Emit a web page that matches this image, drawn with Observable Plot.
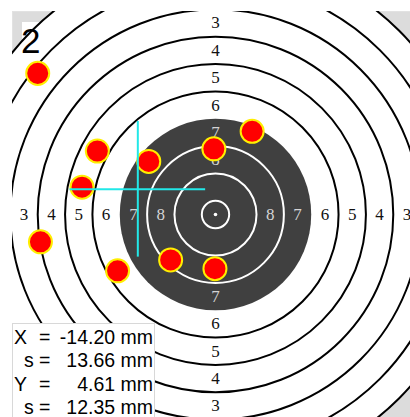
<!DOCTYPE html>
<html><head><meta charset="utf-8">
<script src="https://cdn.jsdelivr.net/npm/d3@7"></script>
<script src="https://cdn.jsdelivr.net/npm/@observablehq/plot@0.6"></script>
<style>
html,body{margin:0;padding:0;background:#fff;overflow:hidden;}
#wrap{position:relative;width:410px;height:417px;overflow:hidden;}
#stats{position:absolute;left:12px;top:323px;width:141px;height:110px;background:#fff;border:1px solid #d8d8d8;
  font-family:"Liberation Sans",Arial,sans-serif;font-size:19.5px;color:#000;}
.row{position:absolute;left:0;width:141px;height:23.4px;line-height:23.4px;white-space:pre;}
.nm{position:absolute;}
.eq{position:absolute;left:26px;}
.val{position:absolute;right:1px;}
</style></head><body><div id="wrap"></div>
<script>
// ---- data ----
const ringScores = [1,2,3,4,5,6,7,8,9,10];
const tenRingRadius = 2.5;   // mm
const ringStep = 5;          // mm between rings
const labelScores = [3,4,5,6,7,8];
const shotX = [-32.5, -21.6, -12.2, -24.4, -0.3, 6.7, -32.0, -17.9, -8.2, -0.1];
const shotY = [25.8, 11.6, 9.7, 5.0, 12.0, 15.2, -5.0, -10.3, -8.3, -9.9];
const shotRadius = [2.25];   // mm
const statNames = ["X", "s", "Y", "s"];
const statValues = [-14.20, 13.66, 4.61, 12.35];
const crossHalf = [12.4];    // mm
const targetNumber = ["2"];
const xDomain = [-37.11, 35.65];
const yDomain = [-37.11, 37.11];

// ---- chart ----
const W = 410, H = 417, mL = 12, mT = 11;
const k = (W - mL) / (xDomain[1] - xDomain[0]);
const rings = ringScores.map(s => ({score: s, r: tenRingRadius + (10 - s) * ringStep}));
const labels = [];
for (const s of labelScores) {
  const m = (10 - s) * ringStep;
  for (const [dx, dy] of [[-1,0],[1,0],[0,1],[0,-1]]) labels.push({score: s, x: dx * m, y: dy * m});
}
const shots = shotX.map((x, i) => ({x, y: shotY[i]}));
const mx = statValues[0], my = statValues[2], h = crossHalf[0];
const zero = () => 0;

const plot = Plot.plot({
  width: W, height: H,
  marginLeft: mL, marginTop: mT, marginRight: 0, marginBottom: 0,
  x: {domain: xDomain, axis: null},
  y: {domain: yDomain, axis: null},
  r: {type: "identity"},
  marks: [
    Plot.frame({fill: "#dcdcdc", stroke: "#e2e2e2"}),
    Plot.dot(rings.filter(d => d.score === 1), {x: zero, y: zero, r: d => d.r * k, fill: "white", clip: "frame"}),
    Plot.dot(rings.filter(d => d.score <= 6), {x: zero, y: zero, r: d => d.r * k, fill: "none", stroke: "black", strokeWidth: 2, clip: "frame"}),
    Plot.dot(rings.filter(d => d.score === 7), {x: zero, y: zero, r: d => d.r * k, fill: "#404040", clip: "frame"}),
    Plot.dot(rings.filter(d => d.score >= 8), {x: zero, y: zero, r: d => d.r * k, fill: "none", stroke: "white", strokeWidth: 2}),
    Plot.dot([0], {x: zero, y: zero, r: 1.8, fill: "white"}),
    Plot.text(labels, {x: "x", y: "y", text: d => String(d.score), fill: d => d.score >= 7 ? "#d4d4d4" : "#111",
      fontFamily: "Liberation Serif, serif", fontSize: 17, clip: "frame"}),
    Plot.dot(shots, {x: "x", y: "y", r: shotRadius[0] * k - 0.8, fill: "#ff0000", stroke: "#ffee00", strokeWidth: 2}),
    Plot.ruleX([mx], {y1: my - h, y2: my + h, stroke: "#22e8e8", strokeWidth: 2}),
    Plot.ruleY([my], {x1: mx - h, x2: mx + h, stroke: "#22e8e8", strokeWidth: 2})
  ]
});
const wrap = document.getElementById("wrap");
wrap.appendChild(plot);

// white label box with the target number, placed under the rings
const svg = d3.select(plot);
const firstDot = plot.querySelector('g[aria-label="dot"]');
const g = document.createElementNS("http://www.w3.org/2000/svg", "g");
plot.insertBefore(g, firstDot);
d3.select(g).append("rect").attr("x", 22).attr("y", 22).attr("width", 24).attr("height", 36).attr("fill", "white");
svg.append("text").attr("x", 21).attr("y", 53).attr("text-anchor", "start").text(targetNumber[0])
  .attr("font-family", "Liberation Sans, Arial, sans-serif").attr("font-size", 35).attr("fill", "#000");

// statistics box
const box = document.createElement("div");
box.id = "stats";
statNames.forEach((n, i) => {
  const row = document.createElement("div");
  row.className = "row";
  row.style.top = (2 + i * 23.4) + "px";
  const nm = document.createElement("span"); nm.className = "nm"; nm.textContent = n;
  nm.style.left = (n === "s" ? 11 : 1) + "px";
  const eq = document.createElement("span"); eq.className = "eq"; eq.textContent = "=";
  const val = document.createElement("span"); val.className = "val"; val.textContent = statValues[i].toFixed(2) + " mm";
  row.append(nm, eq, val);
  box.appendChild(row);
});
wrap.appendChild(box);
</script></body></html>
